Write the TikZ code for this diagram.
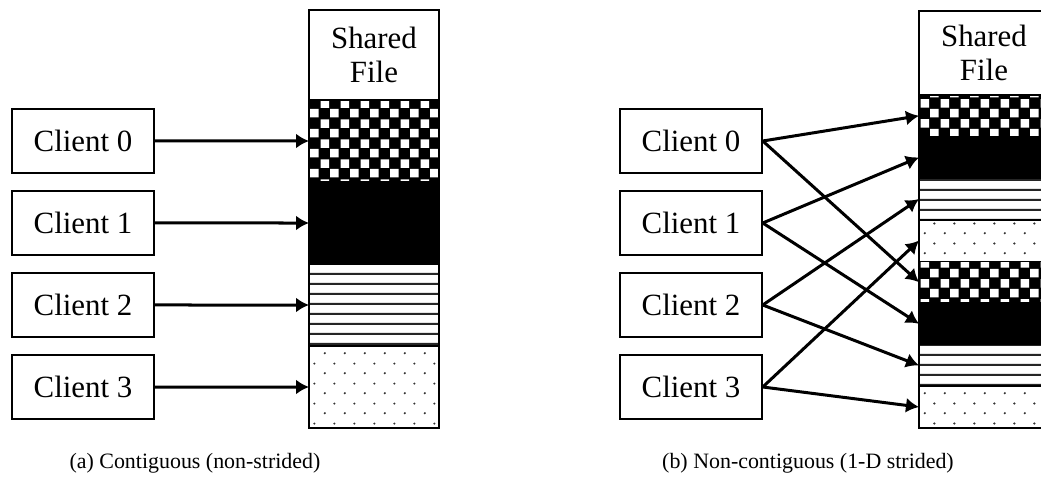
\documentclass[tikz,border=0pt]{standalone}
\usepackage{fontspec}
\setmainfont{Liberation Serif}
\usetikzlibrary{positioning, arrows.meta, patterns}

% fill patterns for the file chunks
\pgfdeclarepatternformonly{whitechecker}{\pgfpointorigin}{\pgfpoint{20bp}{20bp}}{\pgfpoint{20bp}{20bp}}{%
  \pgfpathrectangle{\pgfpoint{10.6bp}{0.6bp}}{\pgfpoint{8.8bp}{8.8bp}}%
  \pgfpathrectangle{\pgfpoint{0.6bp}{10.6bp}}{\pgfpoint{8.8bp}{8.8bp}}%
  \pgfusepath{fill}}
\pgfdeclarepatternformonly{hstripes}{\pgfpointorigin}{\pgfpoint{1200bp}{10.3bp}}{\pgfpoint{1200bp}{10.3bp}}{%
  \pgfpathrectangle{\pgfpointorigin}{\pgfpoint{1200bp}{2.2bp}}%
  \pgfusepath{fill}}
\pgfdeclarepatternformonly{sparsedots}{\pgfpointorigin}{\pgfpoint{20bp}{20bp}}{\pgfpoint{20bp}{20bp}}{%
  \pgfpathcircle{\pgfpoint{5bp}{5bp}}{1.2bp}%
  \pgfpathcircle{\pgfpoint{15bp}{15bp}}{1.2bp}%
  \pgfusepath{fill}}

\tikzset{
  client/.style={draw, line width=1.5bp, minimum width=142bp, minimum height=64bp,
    inner sep=0pt, font=\fontsize{31}{34}\selectfont},
  filehead/.style={draw, line width=1.5bp, minimum width=130bp, inner sep=0pt,
    outer sep=0pt, align=center, font=\fontsize{31}{34}\selectfont},
  chunk/.style={draw, line width=1.5bp, minimum width=130bp, inner sep=0pt, outer sep=0pt},
  seg0/.style={preaction={fill=black}, pattern=whitechecker, pattern color=white},
  seg1/.style={fill=black},
  seg2/.style={preaction={fill=white}, pattern=hstripes, pattern color=black!85},
  seg3/.style={pattern=sparsedots, pattern color=black!80},
  ptr/.style={line width=3bp, -{Latex[length=13bp,width=15bp]}},
  caption/.style={anchor=base, font=\fontsize{22}{26}\selectfont}
}

\begin{document}
\begin{tikzpicture}[x=1bp, y=-1bp]
  \useasboundingbox (0,0) rectangle (1041,478);

  % (a) contiguous
  \node[filehead, minimum height=90bp] (lh) at (374,55) {Shared\\File};
  \foreach \k [remember=\k as \prev (initially h)] in {0,...,3}
    \node[chunk, minimum height=82bp, seg\k, below=0pt of l\prev] (l\k) {};
  \foreach \k in {0,...,3} {
    \node[client] (c\k) at (83,141+82*\k) {Client \k};
    \draw[ptr] (c\k.east) -- (l\k.west);
  }
  \node[caption] (capa) at (195,468) {(a) Contiguous (non-strided)};

  % (b) 1-D strided
  \node[filehead, minimum height=84bp] (rh) at (984,53) {Shared\\File};
  \foreach \k [remember=\k as \prev (initially h)] in {0,...,7} {
    \pgfmathtruncatemacro\m{mod(\k,4)}
    \node[chunk, minimum height=41.6bp, seg\m, below=0pt of r\prev] (r\k) {};
  }
  \foreach \k in {0,...,3} {
    \pgfmathtruncatemacro\j{\k+4}
    \node[client] (d\k) at (691,141+82*\k) {Client \k};
    \draw[ptr] (d\k.east) -- (r\k.west);
    \draw[ptr] (d\k.east) -- (r\j.west);
  }
  \node[caption] (capb) at (808,468) {(b) Non-contiguous (1-D strided)};
\end{tikzpicture}
\end{document}
